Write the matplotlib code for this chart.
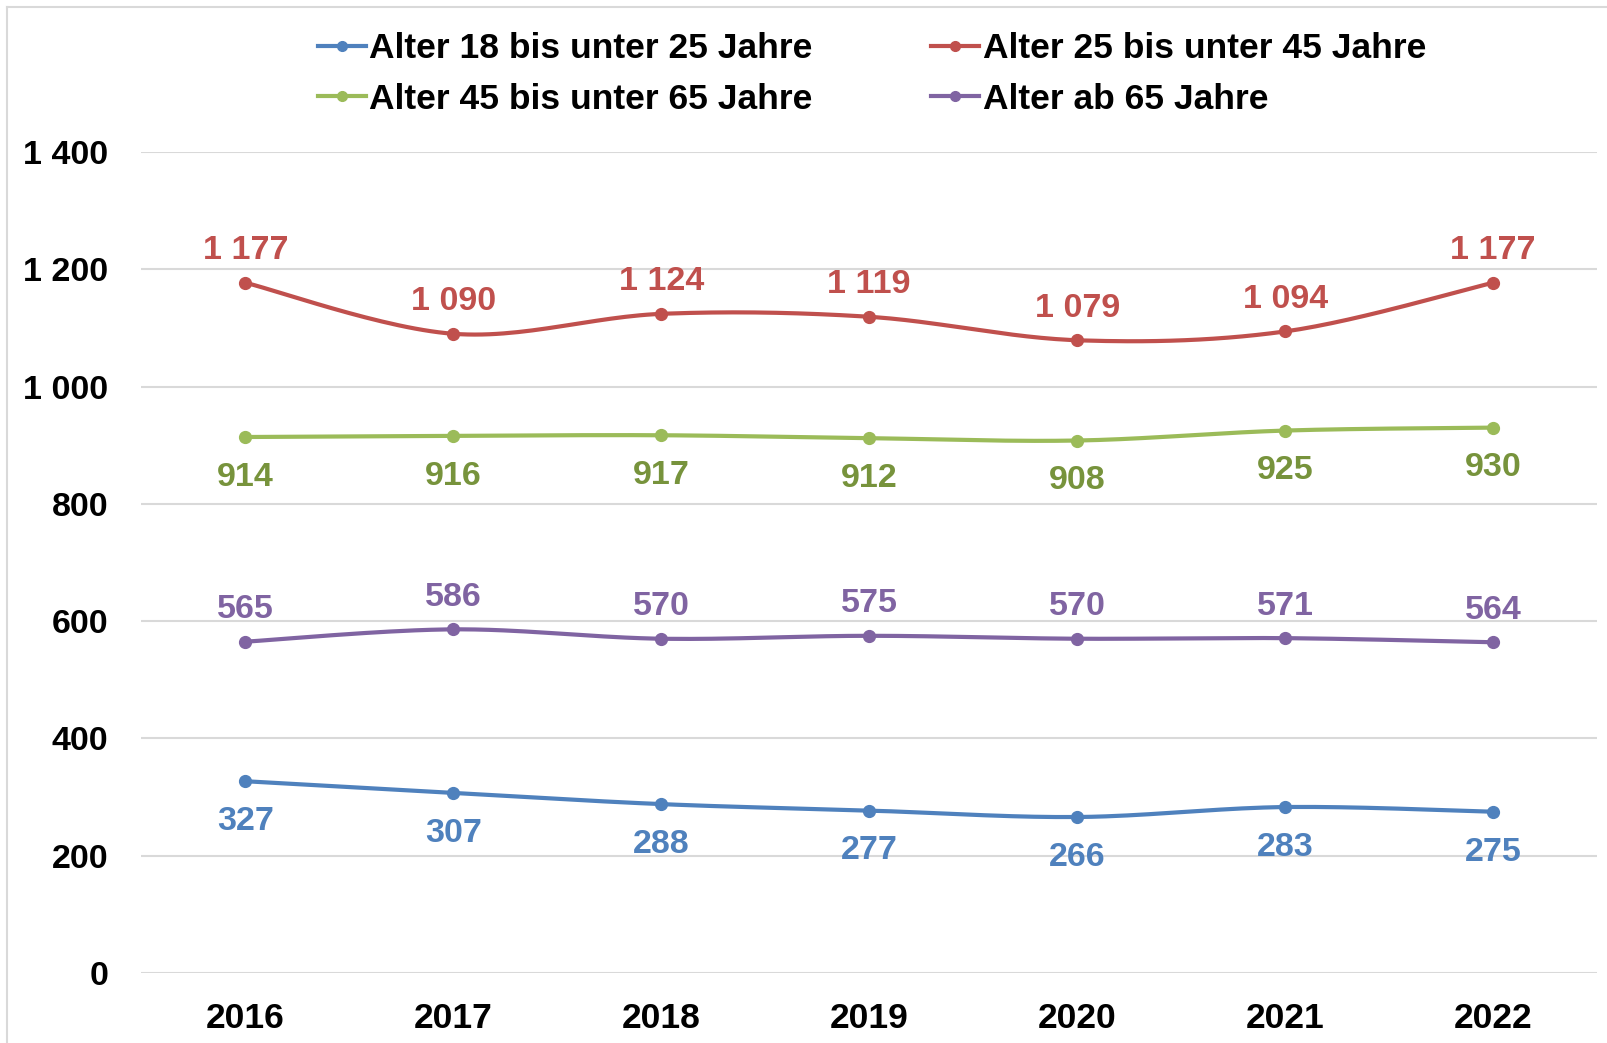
import numpy as np
import matplotlib
matplotlib.use("Agg")
import matplotlib.pyplot as plt
from matplotlib.lines import Line2D
from matplotlib.ticker import FuncFormatter

plt.rcParams["font.family"] = ["Liberation Sans", "DejaVu Sans"]
plt.rcParams["font.weight"] = "bold"

YEARS = ["2016", "2017", "2018", "2019", "2020", "2021", "2022"]
SERIES_NAMES = [
    "Alter 18 bis unter 25 Jahre",
    "Alter 25 bis unter 45 Jahre",
    "Alter 45 bis unter 65 Jahre",
    "Alter ab 65 Jahre",
]
age_18_25 = [327, 307, 288, 277, 266, 283, 275]
age_25_45 = [1177, 1090, 1124, 1119, 1079, 1094, 1177]
age_45_65 = [914, 916, 917, 912, 908, 925, 930]
age_65 = [565, 586, 570, 575, 570, 571, 564]

LINE_COLORS = ["#4F81BD", "#C0504D", "#9BBB59", "#8064A2"]
LABEL_COLORS = ["#4F81BD", "#C0504D", "#77933C", "#8064A2"]
# label offset in points: positive = above point
LABEL_OFFSETS = [-29, 23, -29, 23]


def fmt_num(v, pos=None):
    return "{:,}".format(int(round(v))).replace(",", " ")


def smooth(x, y, n=30):
    # Excel-style smoothed line (Catmull-Rom as cubic Bezier)
    x = np.asarray(x, float)
    y = np.asarray(y, float)
    px = np.concatenate([[x[0]], x, [x[-1]]])
    py = np.concatenate([[y[0]], y, [y[-1]]])
    xs, ys = [], []
    t = np.linspace(0, 1, n)
    for i in range(len(x) - 1):
        p0 = np.array([px[i + 1], py[i + 1]])
        p3 = np.array([px[i + 2], py[i + 2]])
        c1 = p0 + (p3 - np.array([px[i], py[i]])) / 6
        c2 = p3 - (np.array([px[i + 3], py[i + 3]]) - p0) / 6
        b = (np.outer((1 - t) ** 3, p0) + np.outer(3 * (1 - t) ** 2 * t, c1)
             + np.outer(3 * (1 - t) * t ** 2, c2) + np.outer(t ** 3, p3))
        xs.extend(b[:, 0])
        ys.extend(b[:, 1])
    return np.array(xs), np.array(ys)


fig = plt.figure(figsize=(16.08, 10.43), dpi=100)
ax = fig.add_axes([141.5 / 1608, 1 - 973 / 1043, (1597 - 141.5) / 1608, (973 - 152) / 1043])

x = np.arange(len(YEARS))
all_series = [age_18_25, age_25_45, age_45_65, age_65]
handles = []
for vals, name, lc, tc, off in zip(all_series, SERIES_NAMES, LINE_COLORS, LABEL_COLORS, LABEL_OFFSETS):
    sx, sy = smooth(x, vals)
    ax.plot(sx, sy, color=lc, lw=3, solid_capstyle="round", zorder=3)
    ax.plot(x, vals, "o", color=lc, ms=8.5, zorder=4)
    for xi, v in zip(x, vals):
        ax.annotate(fmt_num(v), (xi, v), xytext=(0, off), textcoords="offset points",
                    ha="center", va="center", fontsize=24.5, fontweight="bold", color=tc)
    handles.append(Line2D([], [], color=lc, lw=3, marker="o", ms=7, label=name))

ax.set_xlim(-0.5, 6.5)
ax.set_ylim(0, 1400)
ax.set_yticks(np.arange(0, 1401, 200))
ax.yaxis.set_major_formatter(FuncFormatter(fmt_num))
ax.set_xticks(x)
ax.set_xticklabels(YEARS)
ax.grid(axis="y", color="#D9D9D9", lw=1.5)
ax.set_axisbelow(True)
for s in ax.spines.values():
    s.set_visible(False)
ax.tick_params(axis="y", length=0, pad=24, labelsize=24.5)
ax.tick_params(axis="x", length=0, pad=21, labelsize=25.5)

# legend is filled row by row in the reference
leg_order = [0, 2, 1, 3]
fig.legend(handles=[handles[i] for i in leg_order], loc="upper left",
           bbox_to_anchor=(318 / 1608, 1 - 32 / 1043),
           ncol=2, frameon=False, fontsize=25.5, handlelength=1.35, handletextpad=0.1,
           columnspacing=3.35, labelspacing=0.5, borderpad=0, borderaxespad=0)

# light gray frame (left and top edges visible)
fig.add_artist(Line2D([7 / 1608, 7 / 1608], [0, 1 - 7 / 1043], color="#D9D9D9", lw=1.5,
                      transform=fig.transFigure))
fig.add_artist(Line2D([7 / 1608, 1], [1 - 7 / 1043, 1 - 7 / 1043], color="#D9D9D9", lw=1.5,
                      transform=fig.transFigure))

fig.savefig("out.png", dpi=100)
